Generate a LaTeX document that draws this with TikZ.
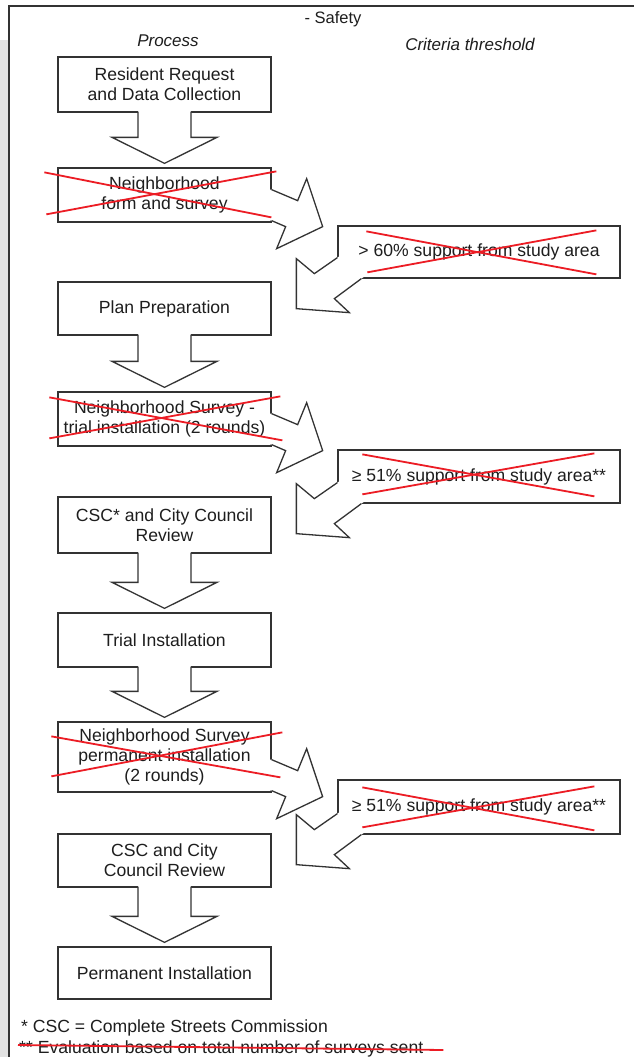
\documentclass[tikz,border=0pt]{standalone}
\usepackage{fontspec}
\setmainfont{Liberation Sans}
\usetikzlibrary{calc}
\definecolor{ln}{HTML}{333333}
\definecolor{txt}{HTML}{1E1E1E}
\definecolor{xred}{RGB}{236,28,36}
\definecolor{strip}{HTML}{E2E2E2}
\tikzset{
  pbox/.style={draw=ln, line width=1.3pt, fill=white, minimum width=213pt, inner sep=0pt,
    align=center, font=\fontsize{17.6}{20}\selectfont, text=txt},
  cbox/.style={pbox, minimum width=282pt},
  blk/.style={draw=ln, line width=1.3pt, line join=miter},
  xline/.style={draw=xred, line width=1.8pt},
  hdr/.style={font=\fontsize{17}{20}\selectfont\itshape, text=txt},
  ttl/.style={font=\fontsize{16.5}{20}\selectfont, text=txt},
  foot/.style={anchor=west, inner sep=0pt, font=\fontsize{17.6}{20}\selectfont, text=txt},
}
% block arrow pointing down, from box #1 to box #2
\newcommand\downblk[2]{%
  \fill[white] ($(#1.south)+(-26.5,-3)$) rectangle ($(#1.south)+(26.5,2)$);
  \draw[blk, fill=white] ($(#1.south)+(-26.5,-1)$) -- ($(#2.north)+(-26.5,-30)$)
    -- ($(#2.north)+(-52.5,-30)$) -- ($(#2.north)+(0,-4)$) -- ($(#2.north)+(52.5,-30)$)
    -- ($(#2.north)+(26.5,-30)$) -- ($(#1.south)+(26.5,-1)$);
}
% block arrow from process box #1 to the criteria column
\newcommand\outblk[1]{%
  \begin{scope}[shift={(#1.south east)}]
    \fill[white] (-4,-33) -- (0,-33) -- (26,-22) -- (35,-44) -- (51,4) -- (5,26) -- (14,4) -- (0,-2) -- (-4,-2) -- cycle;
    \draw[blk] (0,-33) -- (26,-22) -- (35,-44) -- (51,4) -- (5,26) -- (14,4) -- (0,-2);
  \end{scope}
}
% block arrow from criteria box #1 back to the process column
\newcommand\backblk[1]{%
  \begin{scope}[shift={(#1.south west)}]
    \fill[white] (6.6,-25.6) -- (0,-21) -- (-23,-5) -- (-41,-20) -- (-41,30) -- (12,34) -- (-3,20) -- (24,0) -- (30.6,-4.6) -- cycle;
    \draw[blk] (0,-21) -- (-23,-5) -- (-41,-20) -- (-41,30) -- (12,34) -- (-3,20) -- (24,0);
  \end{scope}
}
% red cross over a box: #1 node, then two lines given relative to its north west corner
\newcommand\crossout[9]{%
  \begin{scope}[shift={(#1.north west)}]
    \draw[xline] (#2,#3) -- (#4,#5);
    \draw[xline] (#6,#7) -- (#8,#9);
  \end{scope}
}
\begin{document}
\begin{tikzpicture}[x=1pt,y=-1pt]
\useasboundingbox (0,0) rectangle (634,1057);
\fill[white] (0,0) rectangle (634,1057);
\fill[strip] (0,40) rectangle (8,1057);
\draw[ln, line width=2pt] (9,1057) -- (9,6) -- (634,6);

\node[ttl] (title) at (333,19) {- Safety};
\node[hdr] (hp) at (168,41) {Process};
\node[hdr] (hc) at (470,44) {Criteria threshold};

\node[pbox, minimum height=55pt] (b1) at (164.5,84.5) {Resident Request\\and Data Collection};
\node[pbox, minimum height=54pt] (b2) at (164.5,195) {Neighborhood\\form and survey};
\node[pbox, minimum height=53pt] (b3) at (164.5,308.5) {Plan Preparation};
\node[pbox, minimum height=54pt] (b4) at (164.5,419) {Neighborhood Survey -\\trial installation (2 rounds)};
\node[pbox, minimum height=56pt] (b5) at (164.5,525) {CSC* and City Council\\Review};
\node[pbox, minimum height=54pt] (b6) at (164.5,640) {Trial Installation};
\node[pbox, minimum height=70pt] (b7) at (164.5,757) {Neighborhood Survey\\permanent installation\\(2 rounds)};
\node[pbox, minimum height=53pt] (b8) at (164.5,860.5) {CSC and City\\Council Review};
\node[pbox, minimum height=52pt] (b9) at (164.5,973) {Permanent Installation};

\node[cbox, minimum height=52pt] (cA) at (479,252) {> 60\% support from study area};
\node[cbox, minimum height=53pt] (cB) at (479,476.5) {≥ 51\% support from study area**};
\node[cbox, minimum height=54pt] (cC) at (479,807) {≥ 51\% support from study area**};

\downblk{b1}{b2}
\downblk{b3}{b4}
\downblk{b5}{b6}
\downblk{b6}{b7}
\downblk{b8}{b9}

\outblk{b2}
\backblk{cA}
\outblk{b4}
\backblk{cB}
\outblk{b7}
\backblk{cC}

\crossout{b2}{-13}{5}{214}{50}{-11}{47}{219}{4}
\crossout{b4}{-8}{6}{225}{49}{-8}{47}{223}{5}
\crossout{b7}{-6}{15}{223}{56}{-6}{55}{225}{11}
\crossout{cA}{29}{6}{259}{49}{30}{47}{259}{5}
\crossout{cB}{25}{5}{257}{47}{25}{45}{257}{4}
\crossout{cC}{25}{8}{257}{51}{25}{48}{257}{7}

\node[foot] (fn1) at (21,1028) {* CSC = Complete Streets Commission};
\node[foot] (fn2) at (19,1049) {** Evaluation based on total number of surveys sent};
\draw[xline] ($(fn2.west)+(-1,-4)$) -- ($(fn2.east)+(20,1)$);
\end{tikzpicture}
\end{document}
